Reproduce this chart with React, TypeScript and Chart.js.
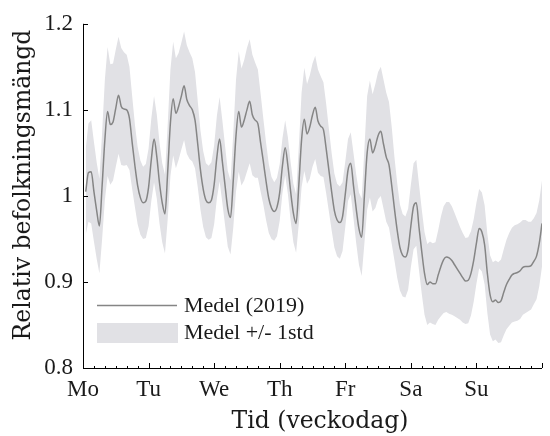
import React, { useEffect, useRef } from 'react';
import { Chart, registerables } from 'chart.js';

Chart.register(...registerables);

// Day labels on the x axis (one per 24 hours)
const dayLabels = ['Mo', 'Tu', 'We', 'Th', 'Fr', 'Sa', 'Su'];
const yTickValues = [0.8, 0.9, 1.0, 1.1, 1.2];
const xTitle = 'Tid (veckodag)';
const yTitle = 'Relativ befolkningsmängd';
const legendLabels = ['Medel (2019)', 'Medel +/- 1std'];

// Hourly mean relative population (hour 1..24 of each day)
const meanMo = [1.005, 1.027, 1.028, 1.005, 0.983, 0.965, 1.012, 1.065, 1.098, 1.083, 1.086, 1.102, 1.117, 1.104, 1.101, 1.100, 1.090, 1.062, 1.035, 1.012, 0.998, 0.992, 0.994, 1.010];
const meanTu = [1.042, 1.066, 1.046, 1.015, 0.992, 0.979, 1.028, 1.085, 1.113, 1.096, 1.104, 1.116, 1.128, 1.112, 1.105, 1.100, 1.088, 1.060, 1.030, 1.008, 0.995, 0.992, 0.995, 1.013];
const meanWe = [1.045, 1.066, 1.040, 1.012, 0.985, 0.975, 1.018, 1.070, 1.098, 1.080, 1.088, 1.100, 1.110, 1.094, 1.088, 1.084, 1.062, 1.040, 1.017, 0.997, 0.986, 0.982, 0.987, 1.004];
const meanTh = [1.035, 1.056, 1.035, 1.005, 0.980, 0.968, 1.013, 1.065, 1.089, 1.072, 1.080, 1.094, 1.103, 1.087, 1.081, 1.077, 1.055, 1.030, 1.005, 0.983, 0.972, 0.969, 0.976, 1.002];
const meanFr = [1.030, 1.038, 1.012, 0.985, 0.962, 0.952, 1.000, 1.050, 1.066, 1.050, 1.058, 1.070, 1.075, 1.060, 1.045, 1.036, 1.012, 0.985, 0.960, 0.940, 0.931, 0.929, 0.938, 0.965];
const meanSa = [0.988, 0.992, 0.963, 0.935, 0.910, 0.897, 0.900, 0.898, 0.898, 0.908, 0.918, 0.926, 0.929, 0.928, 0.925, 0.920, 0.915, 0.910, 0.905, 0.901, 0.902, 0.910, 0.925, 0.945];
const meanSu = [0.962, 0.958, 0.943, 0.910, 0.885, 0.877, 0.879, 0.876, 0.878, 0.888, 0.897, 0.903, 0.908, 0.910, 0.911, 0.913, 0.917, 0.918, 0.918, 0.919, 0.924, 0.930, 0.945, 0.968];

// Hourly standard deviation (hour 1..24 of each day)
const stdMo = [0.050, 0.057, 0.060, 0.058, 0.056, 0.055, 0.062, 0.070, 0.075, 0.070, 0.068, 0.068, 0.068, 0.068, 0.066, 0.064, 0.060, 0.054, 0.048, 0.045, 0.043, 0.042, 0.043, 0.045];
const stdTu = [0.048, 0.050, 0.049, 0.047, 0.046, 0.046, 0.055, 0.062, 0.066, 0.064, 0.062, 0.062, 0.063, 0.063, 0.062, 0.060, 0.056, 0.050, 0.046, 0.044, 0.043, 0.043, 0.044, 0.046];
const stdWe = [0.048, 0.049, 0.048, 0.046, 0.044, 0.043, 0.055, 0.065, 0.070, 0.068, 0.070, 0.072, 0.072, 0.070, 0.067, 0.063, 0.057, 0.050, 0.045, 0.040, 0.036, 0.034, 0.034, 0.033];
const stdTh = [0.032, 0.032, 0.033, 0.034, 0.034, 0.034, 0.045, 0.055, 0.060, 0.058, 0.060, 0.060, 0.060, 0.060, 0.058, 0.055, 0.052, 0.048, 0.045, 0.043, 0.042, 0.042, 0.040, 0.038];
const stdFr = [0.036, 0.036, 0.038, 0.040, 0.042, 0.045, 0.055, 0.066, 0.068, 0.068, 0.072, 0.074, 0.075, 0.075, 0.075, 0.073, 0.068, 0.060, 0.055, 0.050, 0.048, 0.047, 0.047, 0.048];
const stdSa = [0.050, 0.050, 0.050, 0.049, 0.048, 0.047, 0.047, 0.047, 0.048, 0.052, 0.058, 0.062, 0.064, 0.065, 0.063, 0.060, 0.057, 0.054, 0.052, 0.050, 0.050, 0.049, 0.048, 0.047];
const stdSu = [0.046, 0.046, 0.046, 0.046, 0.046, 0.046, 0.046, 0.047, 0.048, 0.050, 0.052, 0.054, 0.055, 0.056, 0.056, 0.056, 0.055, 0.054, 0.052, 0.051, 0.050, 0.050, 0.050, 0.050];

const meanByDay = [meanMo, meanTu, meanWe, meanTh, meanFr, meanSa, meanSu];
const stdByDay = [stdMo, stdTu, stdWe, stdTh, stdFr, stdSa, stdSu];

const LINE_COLOR = '#858585';
const BAND_COLOR = '#e1e1e5';
const TEXT_COLOR = '#1a1a1a';
const SERIF = '"Liberation Serif", "Times New Roman", serif';
const TITLE_SERIF = '"DejaVu Serif", serif';

function buildSeries(kind: 'mean' | 'upper' | 'lower') {
  const pts: { x: number; y: number }[] = [];
  meanByDay.forEach((day, d) => {
    day.forEach((m, h) => {
      const s = stdByDay[d][h];
      const y = kind === 'mean' ? m : kind === 'upper' ? m + s : m - s;
      pts.push({ x: d * 24 + h + 1, y });
    });
  });
  return pts;
}

const decorPlugin = {
  id: 'decor',
  afterDraw(chart: any) {
    const { ctx, chartArea, scales } = chart;
    const xs = scales.x;
    const ys = scales.y;
    const L = chartArea.left;
    const B = chartArea.bottom;
    ctx.save();
    ctx.strokeStyle = '#000';
    ctx.lineWidth = 1;
    ctx.beginPath();
    ctx.moveTo(Math.round(L) + 0.5, chartArea.top);
    ctx.lineTo(Math.round(L) + 0.5, Math.round(B) + 0.5);
    ctx.lineTo(chartArea.right, Math.round(B) + 0.5);
    ctx.stroke();
    // y ticks (inward)
    ctx.beginPath();
    yTickValues.forEach((v) => {
      const y = Math.round(ys.getPixelForValue(v)) + 0.5;
      ctx.moveTo(L, y);
      ctx.lineTo(L + 5, y);
    });
    // x ticks (inward), every 4 hours
    for (let h = 0; h <= 168; h += 4) {
      const x = Math.round(xs.getPixelForValue(h)) + 0.5;
      const len = h % 24 === 0 ? 5 : 2;
      ctx.moveTo(x, B);
      ctx.lineTo(x, B - len);
    }
    ctx.stroke();

    // legend (inside plot, lower left)
    const lx0 = L + 14;
    const lx1 = L + 94;
    ctx.strokeStyle = LINE_COLOR;
    ctx.lineWidth = 1.5;
    ctx.beginPath();
    ctx.moveTo(lx0, 305.5);
    ctx.lineTo(lx1, 305.5);
    ctx.stroke();
    ctx.fillStyle = BAND_COLOR;
    ctx.fillRect(lx0, 323, 81, 20);
    ctx.fillStyle = TEXT_COLOR;
    ctx.font = '22px ' + SERIF;
    ctx.textBaseline = 'middle';
    ctx.textAlign = 'left';
    ctx.fillText(legendLabels[0], L + 101, 306);
    ctx.fillText(legendLabels[1], L + 101, 333);

    // axis titles
    ctx.font = '23.5px ' + TITLE_SERIF;
    ctx.textAlign = 'center';
    ctx.textBaseline = 'alphabetic';
    ctx.fillText(xTitle, 320, 428);
    ctx.save();
    ctx.translate(30, 185);
    ctx.rotate(-Math.PI / 2);
    ctx.fillText(yTitle, 0, 0);
    ctx.restore();
    ctx.restore();
  },
};

export default function App() {
  const canvasRef = useRef<HTMLCanvasElement | null>(null);

  useEffect(() => {
    if (!canvasRef.current) return;
    const chart = new Chart(canvasRef.current, {
      type: 'line',
      data: {
        datasets: [
          {
            label: legendLabels[0],
            data: buildSeries('mean'),
            borderColor: LINE_COLOR,
            borderWidth: 1.5,
            pointRadius: 0,
            fill: false,
            cubicInterpolationMode: 'monotone',
            order: 0,
          },
          {
            label: 'upper',
            data: buildSeries('upper'),
            borderColor: 'rgba(0,0,0,0)',
            borderWidth: 0,
            backgroundColor: BAND_COLOR,
            pointRadius: 0,
            fill: '+1',
            order: 1,
          },
          {
            label: 'lower',
            data: buildSeries('lower'),
            borderColor: 'rgba(0,0,0,0)',
            borderWidth: 0,
            backgroundColor: BAND_COLOR,
            pointRadius: 0,
            fill: false,
            order: 2,
          },
        ],
      },
      options: {
        animation: false,
        responsive: false,
        maintainAspectRatio: false,
        layout: { padding: { top: 20, right: 2, left: 0, bottom: 0 } },
        plugins: {
          legend: { display: false },
          tooltip: { enabled: false },
        },
        scales: {
          x: {
            type: 'linear',
            min: 0,
            max: 168,
            afterFit: (scale: any) => {
              scale.height = 68;
            },
            ticks: {
              stepSize: 24,
              autoSkip: false,
              maxRotation: 0,
              padding: 8,
              color: TEXT_COLOR,
              font: { family: SERIF, size: 23 },
              callback: (v: any) => {
                const i = Math.round(Number(v) / 24);
                return i < dayLabels.length ? dayLabels[i] : '';
              },
            },
            grid: { display: false, drawTicks: false },
            border: { display: false },
          },
          y: {
            type: 'linear',
            min: 0.8,
            max: 1.2,
            afterFit: (scale: any) => {
              scale.width = 83;
            },
            ticks: {
              stepSize: 0.1,
              padding: 10,
              color: TEXT_COLOR,
              font: { family: SERIF, size: 23 },
              callback: (v: any) => {
                const r = Math.round(Number(v) * 10) / 10;
                return String(r);
              },
            },
            grid: { display: false, drawTicks: false },
            border: { display: false },
          },
        },
      },
      plugins: [decorPlugin],
    });
    return () => chart.destroy();
  }, []);

  return (
    <div style={{ position: 'absolute', left: 0, top: 0, width: 550, height: 436, background: '#fff' }}>
      <canvas ref={canvasRef} width={550} height={436} />
    </div>
  );
}
